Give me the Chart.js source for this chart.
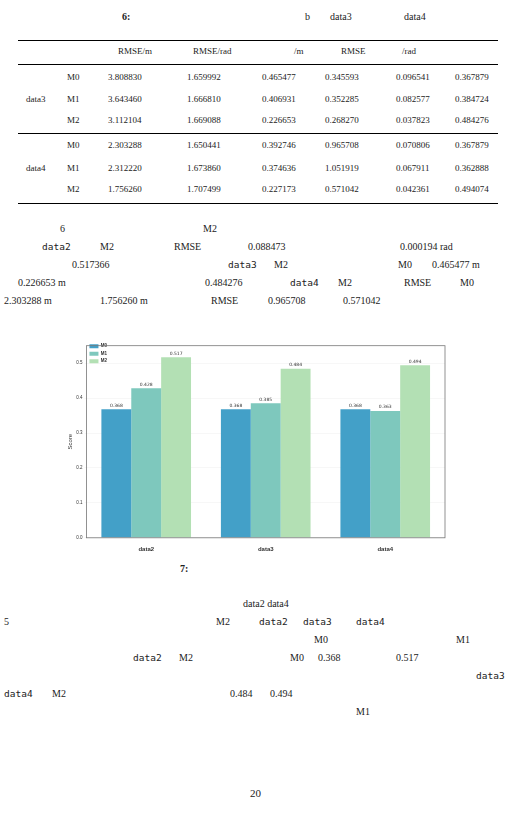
<!DOCTYPE html>
<html><head><meta charset="utf-8">
<script src="https://cdn.jsdelivr.net/npm/chart.js@4"></script>
<style>
body{margin:0;background:#fff;font-family:"Liberation Serif","DejaVu Serif",serif;color:#222;}
.t{position:absolute;font-size:10px;white-space:nowrap;}
.m{font-family:"DejaVu Sans Mono",monospace;font-size:9.5px;}
.r{position:absolute;left:18px;width:480px;background:#000;}
#box{position:absolute;left:57px;top:341px;width:390px;height:212px;}
</style></head><body>
<div class="t" style="left:122px;top:11px;font-weight:bold">6:</div>
<div class="t" style="left:305px;top:11px">b</div>
<div class="t" style="left:330px;top:11px">data3</div>
<div class="t" style="left:404px;top:11px">data4</div>
<div class="r" style="top:40px;height:1.2px"></div>
<div class="r" style="top:64px;height:0.7px"></div>
<div class="r" style="top:133px;height:0.6px"></div>
<div class="r" style="top:203px;height:1.2px"></div>
<div class="t" style="left:118px;top:46px;font-size:9px">RMSE/m</div>
<div class="t" style="left:193px;top:46px;font-size:9px">RMSE/rad</div>
<div class="t" style="left:294px;top:46px;font-size:9px">/m</div>
<div class="t" style="left:341px;top:46px;font-size:9px">RMSE</div>
<div class="t" style="left:402px;top:46px;font-size:9px">/rad</div>
<div id="table"></div>
<div id="para1"></div>
<div id="box"><canvas id="c"></canvas></div>
<div class="t" style="left:180px;top:563px;font-weight:bold">7:</div>
<div id="para2"></div>
<div class="t" style="left:250px;top:787px;font-size:11px">20</div>
<script>
const categories = ['data2', 'data3', 'data4'];
const seriesNames = ['M0', 'M1', 'M2'];
const m0 = [0.368, 0.368, 0.368];
const m1 = [0.428, 0.385, 0.363];
const m2 = [0.517, 0.484, 0.494];
const yTicks = [0, 0.1, 0.2, 0.3, 0.4, 0.5];

const tableRows = [
  ['data3', 'M0', '3.808830', '1.659992', '0.465477', '0.345593', '0.096541', '0.367879'],
  ['', 'M1', '3.643460', '1.666810', '0.406931', '0.352285', '0.082577', '0.384724'],
  ['', 'M2', '3.112104', '1.669088', '0.226653', '0.268270', '0.037823', '0.484276'],
  ['data4', 'M0', '2.303288', '1.650441', '0.392746', '0.965708', '0.070806', '0.367879'],
  ['', 'M1', '2.312220', '1.673860', '0.374636', '1.051919', '0.067911', '0.362888'],
  ['', 'M2', '1.756260', '1.707499', '0.227173', '0.571042', '0.042361', '0.494074']
];
const rowY = [72, 94, 115, 140, 163, 184];
const colX = [67, 108, 187, 262, 325, 396, 455];
let html = '';
tableRows.forEach((row, i) => {
  row.slice(1).forEach((v, j) => {
    html += `<div class="t" style="left:${colX[j]}px;top:${rowY[i]}px;font-size:9px">${v}</div>`;
  });
});
html += `<div class="t" style="left:26px;top:94px;font-size:9px">data3</div>`;
html += `<div class="t" style="left:26px;top:163px;font-size:9px">data4</div>`;
document.getElementById('table').innerHTML = html;

function place(id, items) {
  document.getElementById(id).innerHTML = items.map(([x, y, s, cls]) =>
    `<div class="t ${cls || ''}" style="left:${x}px;top:${y}px">${s}</div>`).join('');
}
place('para1', [
  [60, 223, '6'], [203, 223, 'M2'],
  [42, 241, 'data2', 'm'], [100, 241, 'M2'], [174, 241, 'RMSE'], [248, 241, '0.088473'], [400, 241, '0.000194 rad'],
  [72, 259, '0.517366'], [228, 259, 'data3', 'm'], [274, 259, 'M2'], [398, 259, 'M0'], [432, 259, '0.465477 m'],
  [18, 277, '0.226653 m'], [205, 277, '0.484276'], [290, 277, 'data4', 'm'], [338, 277, 'M2'], [404, 277, 'RMSE'], [460, 277, 'M0'],
  [4, 295, '2.303288 m'], [100, 295, '1.756260 m'], [211, 295, 'RMSE'], [268, 295, '0.965708'], [343, 295, '0.571042']
]);
place('para2', [
  [243, 598, 'data2 data4'],
  [4, 616, '5'], [216, 616, 'M2'], [259, 616, 'data2', 'm'], [303, 616, 'data3', 'm'], [356, 616, 'data4', 'm'],
  [314, 634, 'M0'], [456, 634, 'M1'],
  [133, 652, 'data2', 'm'], [179, 652, 'M2'], [290, 652, 'M0'], [318, 652, '0.368'], [396, 652, '0.517'],
  [476, 670, 'data3', 'm'],
  [4, 688, 'data4', 'm'], [52, 688, 'M2'], [230, 688, '0.484'], [270, 688, '0.494'],
  [356, 706, 'M1']
]);

const valueLabels = {
  id: 'valueLabels',
  afterDatasetsDraw(chart) {
    const ctx = chart.ctx;
    ctx.save();
    ctx.font = '4.5px DejaVu Sans';
    ctx.fillStyle = '#333';
    ctx.textAlign = 'center';
    ctx.textBaseline = 'bottom';
    chart.data.datasets.forEach((ds, i) => {
      chart.getDatasetMeta(i).data.forEach((bar, j) => {
        ctx.fillText(ds.data[j].toFixed(3), bar.x, bar.y - 1.5);
      });
    });
    ctx.restore();
  }
};
const frame = {
  id: 'frame',
  afterDraw(chart) {
    const a = chart.chartArea, ctx = chart.ctx;
    ctx.save();
    ctx.strokeStyle = '#777';
    ctx.lineWidth = 0.8;
    ctx.strokeRect(a.left, a.top, a.right - a.left, a.bottom - a.top);
    ctx.restore();
  }
};

new Chart(document.getElementById('c'), {
  type: 'bar',
  data: {
    labels: categories,
    datasets: [
      { label: seriesNames[0], data: m0, backgroundColor: '#43a0c8' },
      { label: seriesNames[1], data: m1, backgroundColor: '#7ec8bd' },
      { label: seriesNames[2], data: m2, backgroundColor: '#b3e0b4' }
    ]
  },
  options: {
    responsive: true,
    maintainAspectRatio: false,
    animation: false,
    layout: { padding: { top: 4, right: 2, left: 10 } },
    datasets: { bar: { categoryPercentage: 0.75, barPercentage: 1 } },
    plugins: {
      legend: {
        position: 'chartArea', align: 'start',
        labels: { boxWidth: 9, boxHeight: 4, padding: 3, font: { size: 4.5, weight: 'bold' }, color: '#333' }
      },
      tooltip: { enabled: false }
    },
    scales: {
      x: {
        grid: { display: false },
        border: { display: false },
        ticks: { font: { size: 6, weight: 'bold' }, color: '#333', padding: 0 }
      },
      y: {
        min: 0, max: 0.55,
        afterBuildTicks(axis) { axis.ticks = yTicks.map(v => ({ value: v })); },
        grid: { color: '#eee', lineWidth: 0.5, drawTicks: true, tickLength: 2 },
        border: { display: false },
        title: { display: true, text: 'Score', font: { size: 6 }, color: '#333', padding: 0 },
        ticks: { font: { size: 4.5 }, color: '#333', padding: 2, callback: v => v.toFixed(1) }
      }
    }
  },
  plugins: [valueLabels, frame]
});
</script>
</body></html>
